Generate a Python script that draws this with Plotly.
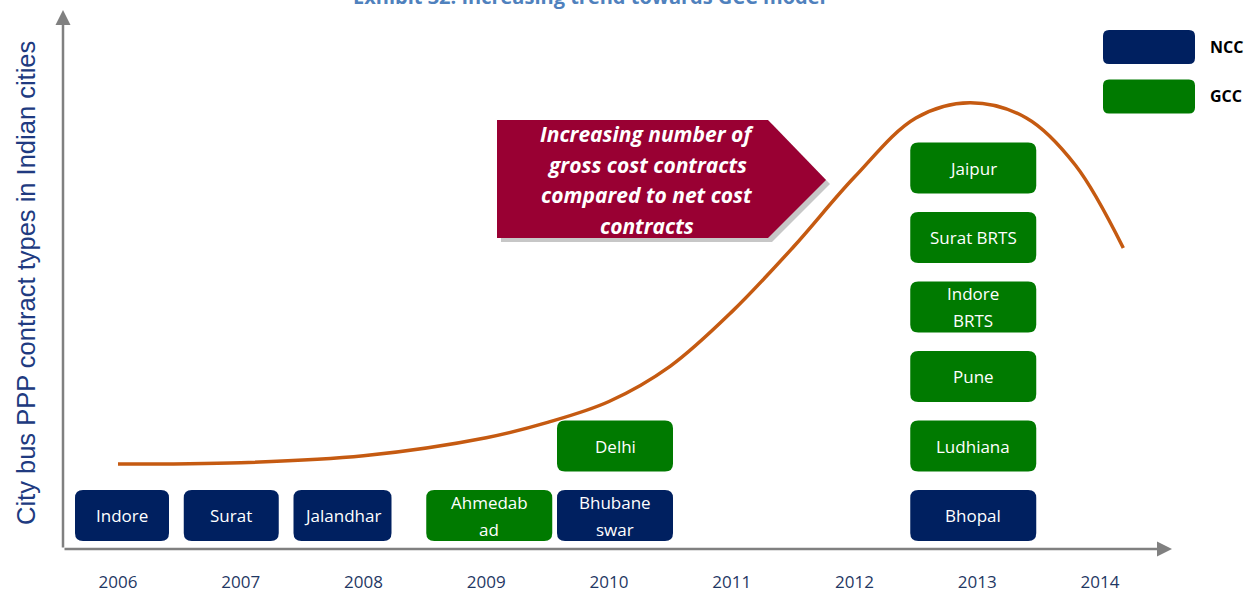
import plotly.graph_objects as go

# ---- data -------------------------------------------------------------
years = [2006, 2007, 2008, 2009, 2010, 2010, 2013, 2013, 2013, 2013, 2013, 2013]
cities = ["Indore", "Surat", "Jalandhar", "Ahmedab<br>ad", "Bhubane<br>swar", "Delhi",
          "Bhopal", "Ludhiana", "Pune", "Indore<br>BRTS", "Surat BRTS", "Jaipur"]
contract_types = ["NCC", "NCC", "NCC", "GCC", "NCC", "GCC",
                  "NCC", "GCC", "GCC", "GCC", "GCC", "GCC"]

# trend of GCC adoption (arbitrary units on the stack scale)
trend_x = [2006, 2007, 2008, 2009, 2009.5, 2010, 2010.5, 2011, 2011.5, 2012,
           2012.5, 2012.94, 2013.4, 2013.8, 2014.19]
trend_y = [0.74, 0.76, 0.86, 1.12, 1.34, 1.64, 2.15, 2.93, 3.86, 4.87,
           5.72, 5.94, 5.72, 5.04, 3.85]

tick_years = list(range(2006, 2015))

# ---- styling -----------------------------------------------------------
COLORS = {"NCC": "#002060", "GCC": "#007A00"}
CURVE = "#C55A11"
ARROW = "#990033"
AXIS = "#808080"
NAVY_TEXT = "#1F3864"
FONT = "Open Sans"

W, H = 1257, 592
L, R, T, B = 63, 1172, 10, 549          # plot area in pixels
PX_PER_YEAR = 122.75
PX_PER_LEVEL = 69.5
X0 = 2006 - (118 - L) / PX_PER_YEAR
X1 = X0 + (R - L) / PX_PER_YEAR
Y0 = -(B - 515.5) / PX_PER_LEVEL
Y1 = Y0 + (B - T) / PX_PER_LEVEL

# box width (px) and horizontal nudge (px) per label
BOX_GEOM = {
    "Indore": (94, 4), "Surat": (95, -9.5), "Jalandhar": (98, -21),
    "Ahmedab<br>ad": (126, 3), "Bhubane<br>swar": (116, 6), "Delhi": (116, 6),
}
DEFAULT_GEOM = (126, -4)
BOX_H = 51


def px_x(px):
    return (px - L) / (R - L)


def px_y(py):
    return (B - py) / (B - T)


def rounded_path(x0, x1, y0, y1, rx, ry):
    return (f"M {x0+rx},{y0} L {x1-rx},{y0} Q {x1},{y0} {x1},{y0+ry} "
            f"L {x1},{y1-ry} Q {x1},{y1} {x1-rx},{y1} L {x0+rx},{y1} "
            f"Q {x0},{y1} {x0},{y1-ry} L {x0},{y0+ry} Q {x0},{y0} {x0+rx},{y0} Z")


fig = go.Figure()

# trend curve
fig.add_trace(go.Scatter(
    x=trend_x, y=trend_y, mode="lines",
    line=dict(color=CURVE, width=3.5, shape="spline", smoothing=1.0),
    hoverinfo="skip", showlegend=False,
))

shapes = []
annotations = []

# contract boxes, stacked per year
level_count = {}
for yr, city, kind in zip(years, cities, contract_types):
    lvl = level_count.get(yr, 0)
    level_count[yr] = lvl + 1
    w_px, dx_px = BOX_GEOM.get(city, DEFAULT_GEOM)
    xc = yr + dx_px / PX_PER_YEAR
    hw = w_px / 2 / PX_PER_YEAR
    hh = BOX_H / 2 / PX_PER_LEVEL
    rx, ry = 8 / PX_PER_YEAR, 8 / PX_PER_LEVEL
    shapes.append(dict(
        type="path", xref="x", yref="y",
        path=rounded_path(xc - hw, xc + hw, lvl - hh, lvl + hh, rx, ry),
        fillcolor=COLORS[kind], line=dict(width=0), layer="above",
    ))
    lines = city.split("<br>")
    n = len(lines)
    for i, txt in enumerate(lines):
        annotations.append(dict(
            x=xc, y=lvl, xref="x", yref="y", text=txt, showarrow=False,
            xanchor="center", yanchor="middle",
            yshift=(n - 1) / 2 * 27 - i * 27,
            font=dict(family=FONT, size=17, color="white"),
        ))

# callout arrow with drop shadow
ax0, ax1, tipx, ay0, ay1, tipy = 497, 768, 826, 120, 238, 180
for off, col in ((4, "rgba(0,0,0,0.22)"), (0, ARROW)):
    pts = [(ax0 + off, ay0 + off), (ax1 + off, ay0 + off), (tipx + off, tipy + off),
           (ax1 + off, ay1 + off), (ax0 + off, ay1 + off)]
    path = "M " + " L ".join(f"{px_x(a)},{px_y(b)}" for a, b in pts) + " Z"
    shapes.append(dict(type="path", xref="paper", yref="paper", path=path,
                       fillcolor=col, line=dict(width=0), layer="above"))

callout = ["Increasing number of", "gross cost contracts",
           "compared to net cost", "contracts"]
for i, txt in enumerate(callout):
    annotations.append(dict(
        x=px_x(647), y=px_y(134 + i * 30.7), xref="paper", yref="paper",
        text=txt, showarrow=False, xanchor="center", yanchor="middle",
        font=dict(family=FONT, size=21, color="white", weight="bold", style="italic"),
    ))

# legend
for (ky, label) in ((47, "NCC"), (96.5, "GCC")):
    x0, x1 = px_x(1103), px_x(1195)
    y0, y1 = px_y(ky + 17), px_y(ky - 17)
    rx, ry = 6 / (R - L), 6 / (B - T)
    shapes.append(dict(type="path", xref="paper", yref="paper",
                       path=rounded_path(x0, x1, y0, y1, rx, ry),
                       fillcolor=COLORS[label], line=dict(width=0)))
    annotations.append(dict(
        x=px_x(1208), y=px_y(ky), xref="paper", yref="paper",
        xanchor="left", yanchor="middle",
        text=label, showarrow=False,
        font=dict(family=FONT, size=16, color="black", weight="bold"),
    ))

# axis lines with arrow heads
annotations.append(dict(x=1, y=0, xref="paper", yref="paper", ax=-(R - L), ay=0,
                        text="", showarrow=True, arrowhead=2, arrowsize=1.2,
                        arrowwidth=2.5, arrowcolor=AXIS))
annotations.append(dict(x=0, y=1, xref="paper", yref="paper", ax=0, ay=(B - T),
                        text="", showarrow=True, arrowhead=2, arrowsize=1.2,
                        arrowwidth=2.5, arrowcolor=AXIS))

# axis title
annotations.append(dict(
    x=px_x(26), y=px_y(283), xref="paper", yref="paper", textangle=-90,
    xanchor="center", yanchor="middle",
    text="City bus PPP contract types in Indian cities", showarrow=False,
    font=dict(family="Liberation Sans", size=25.5, color="#203A80"),
))

# heading
annotations.append(dict(
    x=px_x(589), y=px_y(-3), xref="paper", yref="paper",
    xanchor="center", yanchor="middle",
    text="Exhibit 32: Increasing trend towards GCC model", showarrow=False,
    font=dict(family=FONT, size=20, color="#4F81BD", weight="bold"),
))

fig.update_layout(
    width=W, height=H,
    margin=dict(l=L, r=W - R, t=T, b=H - B, pad=0),
    paper_bgcolor="white", plot_bgcolor="white",
    shapes=shapes, annotations=annotations,
    xaxis=dict(range=[X0, X1], tickmode="array", tickvals=tick_years,
               ticktext=[str(y) for y in tick_years], showgrid=False, zeroline=False,
               showline=False, ticks="outside", ticklen=18, tickcolor="rgba(0,0,0,0)",
               automargin=False,
               tickfont=dict(family=FONT, size=17, color=NAVY_TEXT)),
    yaxis=dict(range=[Y0, Y1], showgrid=False, zeroline=False, showline=False,
               showticklabels=False, ticks="", automargin=False),
)

fig.write_html("out.html")
